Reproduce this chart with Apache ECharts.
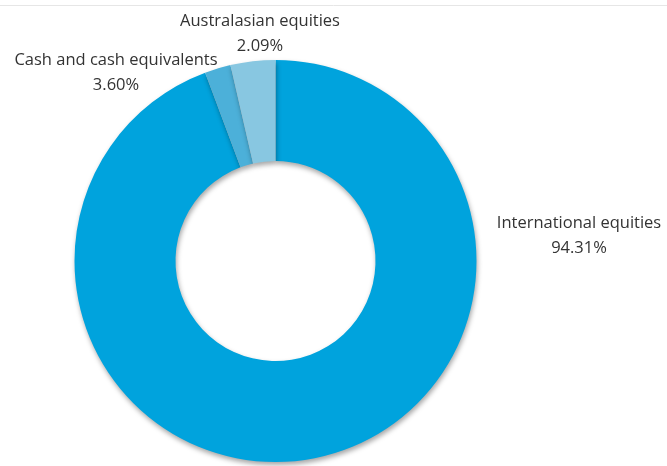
<!DOCTYPE html>
<html>
<head>
<meta charset="utf-8">
<script src="https://cdn.jsdelivr.net/npm/echarts@6/dist/echarts.min.js"></script>
<style>
  html, body { margin: 0; padding: 0; background: #fff; }
  #chart { width: 667px; height: 466px; }
</style>
</head>
<body>
<div id="chart"></div>
<script>
// slices in clockwise order from 12 o'clock
const categories = ["International equities", "Australasian equities", "Cash and cash equivalents"];
const values = [94.31, 2.09, 3.6];
const colors = ["#00a3dd", "#4cb0d9", "#88c7e1"];

// where each label sits (label centre, px)
const labelPos = [
  { x: 579, y: 236 },
  { x: 260, y: 34 },
  { x: 116, y: 73 },
];

const chart = echarts.init(document.getElementById("chart"));

const option = {
  animation: false,
  graphic: [
    {
      type: "line",
      shape: { x1: 0, y1: 5.5, x2: 667, y2: 5.5 },
      style: { stroke: "#e6e6e6", lineWidth: 1 },
    },
  ],
  series: [
    {
      type: "pie",
      center: [275.5, 261],
      radius: [100, 201],
      startAngle: 90,
      clockwise: true,
      avoidLabelOverlap: false,
      data: categories.map((name, i) => ({
        name,
        value: values[i],
        itemStyle: { color: colors[i] },
      })),
      itemStyle: {
        shadowBlur: 5,
        shadowOffsetX: 1,
        shadowOffsetY: 3,
        shadowColor: "rgba(0, 0, 0, 0.35)",
      },
      label: {
        show: true,
        formatter: (p) => p.name + "\n" + p.value.toFixed(2) + "%",
        fontFamily: "Open Sans",
        fontSize: 16.5,
        lineHeight: 25,
        color: "#333333",
        align: "center",
      },
      labelLine: { show: false },
      labelLayout: (params) => ({
        x: labelPos[params.dataIndex].x,
        y: labelPos[params.dataIndex].y,
        align: "center",
        verticalAlign: "middle",
      }),
      emphasis: { disabled: true },
    },
  ],
};

chart.setOption(option);
</script>
</body>
</html>
